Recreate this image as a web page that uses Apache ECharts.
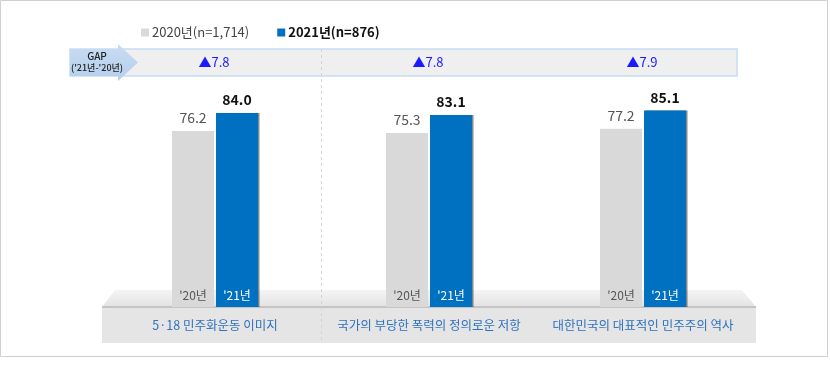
<!DOCTYPE html>
<html><head><meta charset="utf-8">
<script src="https://cdn.jsdelivr.net/npm/echarts@6/dist/echarts.min.js"></script>
<style>html,body{margin:0;padding:0;background:#fff}#c{width:830px;height:370px}</style>
</head><body><div id="c"></div>
<script>
var categories = ['5·18 민주화운동 이미지', '국가의 부당한 폭력의 정의로운 저항', '대한민국의 대표적인 민주주의 역사'];
var seriesNames = ['2020년(n=1,714)', '2021년(n=876)'];
var values2020 = [76.2, 75.3, 77.2];
var values2021 = [84.0, 83.1, 85.1];
var gaps = [7.8, 7.8, 7.9];
var yearLabels = ["'20년", "'21년"];
var gapTitle = ['GAP', "('21년-'20년)"];

var FONT = "'Noto Sans CJK KR', 'Noto Sans', sans-serif";
var chart = echarts.init(document.getElementById('c'));

var option = {
  animation: false,
  textStyle: { fontFamily: FONT },
  legend: {
    left: 136, top: 21,
    itemWidth: 8, itemHeight: 8, itemGap: 28,
    icon: 'rect',
    textStyle: { fontSize: 13, color: '#444', fontFamily: FONT, padding: [0, 0, 0, -2] },
    data: [
      { name: seriesNames[0] },
      { name: seriesNames[1], textStyle: { fontWeight: 'bold', color: '#111' } }
    ]
  },
  grid: { left: 108, right: 80, top: 76, bottom: 63 },
  xAxis: {
    type: 'category', data: categories, z: 10,
    axisLine: { show: false }, axisTick: { show: false },
    axisLabel: { interval: 0, hideOverlap: false, color: '#2f72bd', fontSize: 12.5, margin: 12, fontFamily: FONT }
  },
  yAxis: {
    type: 'value', min: 0, max: 100, show: false,
    splitLine: { show: false }
  },
  graphic: [
    { type: 'rect', z: -20, shape: { x: 0.5, y: 0.5, width: 827, height: 356 },
      style: { fill: 'none', stroke: '#cfcfcf', lineWidth: 1 } },
    { type: 'rect', z: -20, shape: { x: 70, y: 49, width: 667, height: 27 },
      style: { fill: '#efefef', stroke: '#c7ddf3', lineWidth: 1.5 } },
    { type: 'polygon', z: -19,
      shape: { points: [[70, 49], [118, 49], [118, 44], [138, 62.5], [118, 81], [118, 76], [70, 76]] },
      style: { fill: new echarts.graphic.LinearGradient(0, 0, 0, 1, [
        { offset: 0, color: '#c9dcf2' }, { offset: 1, color: '#b4cfec' }]) } },
    { type: 'text', z: -18, x: 97, y: 56,
      style: { text: gapTitle[0], fill: '#222', font: '500 10px ' + FONT, align: 'center', verticalAlign: 'middle' } },
    { type: 'text', z: -18, x: 97, y: 68,
      style: { text: gapTitle[1], fill: '#222', font: '500 9px ' + FONT, align: 'center', verticalAlign: 'middle' } },
    { type: 'polygon', z: -20,
      shape: { points: [[115, 290], [742, 290], [756, 307], [102, 307]] },
      style: { fill: new echarts.graphic.LinearGradient(0, 0, 0, 1, [
        { offset: 0, color: '#f4f4f4' }, { offset: 1, color: '#e3e3e3' }]) } },
    { type: 'line', z: -19, shape: { x1: 102, y1: 307, x2: 756, y2: 307 },
      style: { stroke: '#c4c4c4', lineWidth: 2 } },
    { type: 'rect', z: -20, shape: { x: 102, y: 308, width: 654, height: 35 },
      style: { fill: '#e5e5e5' } },
    { type: 'line', z: -17, shape: { x1: 321.5, y1: 49, x2: 321.5, y2: 343 },
      style: { stroke: '#d4d4d4', lineWidth: 1, lineDash: [3, 3] } }
  ],
  series: [
    {
      name: seriesNames[0], type: 'bar', data: values2020,
      barWidth: 42, barGap: '4.8%',
      itemStyle: { color: '#d9d9d9' },
      label: { show: true, position: 'top', distance: 6, color: '#555', fontSize: 14,
        fontFamily: FONT, formatter: function (p) { return p.value.toFixed(1); } }
    },
    {
      name: seriesNames[1], type: 'bar', data: values2021,
      barWidth: 42,
      itemStyle: { color: '#0070c0', shadowColor: 'rgba(40,40,40,0.55)', shadowOffsetX: 1.5, shadowBlur: 0 },
      label: { show: true, position: 'top', distance: 6, color: '#111', fontSize: 14, fontWeight: 'bold',
        fontFamily: FONT, formatter: function (p) { return p.value.toFixed(1); } }
    },
    {
      type: 'custom', z: 5, silent: true,
      data: categories.map(function (c, i) { return [i, 0, gaps[i]]; }),
      renderItem: function (params, api) {
        var base = api.coord([api.value(0), 0]);
        var cx = base[0], by = base[1];
        return {
          type: 'group',
          children: [
            { type: 'text', style: { x: cx - 22, y: by - 12, text: yearLabels[0], fill: '#555',
              font: '12px ' + FONT, align: 'center', verticalAlign: 'middle' } },
            { type: 'text', style: { x: cx + 22, y: by - 12, text: yearLabels[1], fill: '#fff',
              font: '12px ' + FONT, align: 'center', verticalAlign: 'middle' } },
            { type: 'text', style: { x: cx - 1, y: 62.5, text: '▲' + api.value(2).toFixed(1), fill: '#1a1aff',
              font: '13px ' + FONT, align: 'center', verticalAlign: 'middle' } }
          ]
        };
      }
    }
  ]
};
chart.setOption(option);
</script></body></html>
